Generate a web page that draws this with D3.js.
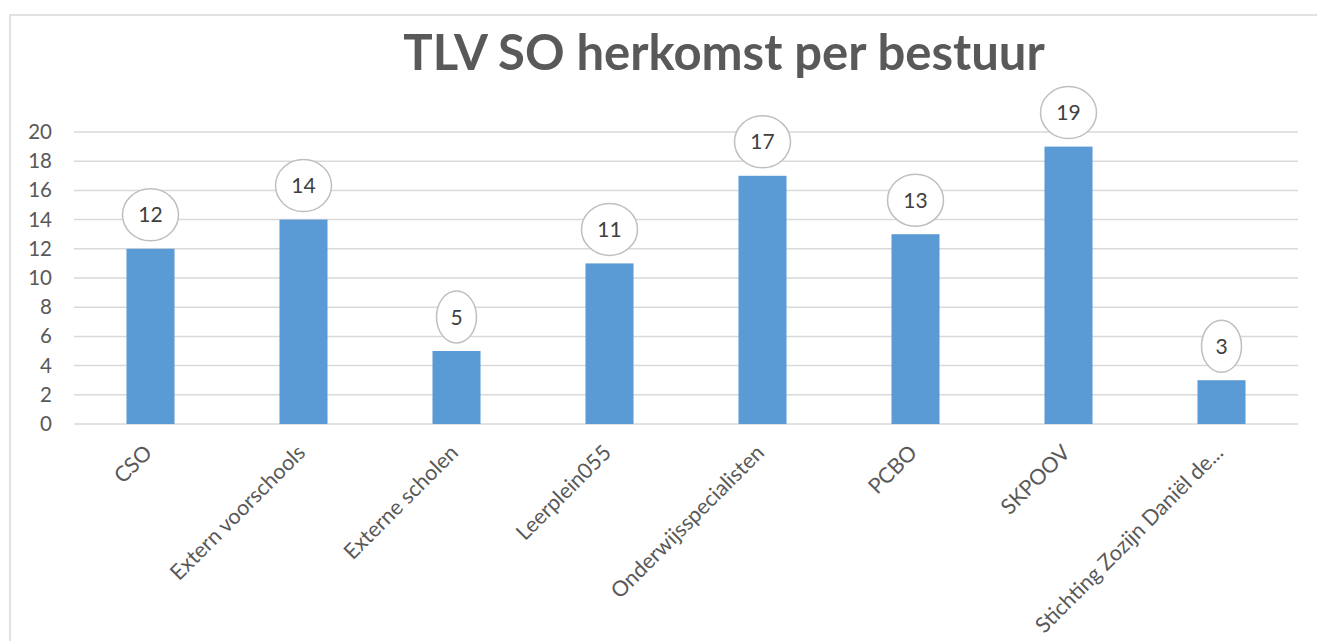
<!DOCTYPE html>
<html>
<head>
<meta charset="utf-8">
<script src="https://cdn.jsdelivr.net/npm/d3@7"></script>
<style>
  body { margin: 0; background: #fff; }
  svg { display: block; font-family: Lato, "Open Sans", sans-serif; }
</style>
</head>
<body>
<script>
const categories = ['CSO', 'Extern voorschools', 'Externe scholen', 'Leerplein055',
                    'Onderwijsspecialisten', 'PCBO', 'SKPOOV', 'Stichting Zozijn Daniël de...'];
const values = [12, 14, 5, 11, 17, 13, 19, 3];
const yTicks = [0, 2, 4, 6, 8, 10, 12, 14, 16, 18, 20];
const title = 'TLV SO herkomst per bestuur';

const W = 1317, H = 641;
const margin = {left: 74, right: 19, top: 132, bottom: 217};

const svg = d3.select('body').append('svg')
              .attr('width', W)
              .attr('height', H);

// chart frame (only top + left edges visible)
svg.append('path')
   .attr('d', `M10,${H} L10,15 L${W},15`)
   .attr('fill', 'none')
   .attr('stroke', '#d9d9d9')
   .attr('stroke-width', 1.5);

svg.append('text')
   .attr('x', 724)
   .attr('y', 70)
   .attr('text-anchor', 'middle')
   .attr('font-size', 49)
   .attr('font-weight', 'bold')
   .attr('fill', '#595959')
   .text(title);

const x = d3.scaleBand()
            .domain(categories)
            .range([margin.left, W - margin.right])
            .paddingInner(0.686)
            .paddingOuter(0.343);

const y = d3.scaleLinear()
            .domain([0, 20])
            .range([H - margin.bottom, margin.top]);

// gridlines
svg.append('g')
   .selectAll('line')
   .data(yTicks)
   .join('line')
   .attr('x1', margin.left)
   .attr('x2', W - margin.right)
   .attr('y1', d => y(d))
   .attr('y2', d => y(d))
   .attr('stroke', '#d9d9d9')
   .attr('stroke-width', 1.5);

// y axis labels
const yAxis = svg.append('g')
                 .attr('transform', `translate(${margin.left},0)`)
                 .call(d3.axisLeft(y).tickValues(yTicks).tickSize(0).tickPadding(22));
yAxis.select('.domain').remove();
yAxis.selectAll('text')
     .attr('font-family', 'Lato, "Open Sans", sans-serif')
     .attr('font-size', 20.5)
     .attr('fill', '#595959');

// bars
svg.append('g')
   .selectAll('rect')
   .data(values)
   .join('rect')
   .attr('x', (d, i) => x(categories[i]))
   .attr('y', d => y(d))
   .attr('width', x.bandwidth())
   .attr('height', d => y(0) - y(d))
   .attr('fill', '#5b9bd5');

// x labels
svg.append('g')
   .selectAll('text')
   .data(categories)
   .join('text')
   .attr('text-anchor', 'end')
   .attr('font-size', 21.5)
   .attr('fill', '#595959')
   .attr('transform', d => `translate(${x(d) + x.bandwidth() / 2 + 3},${y(0) + 30}) rotate(-45)`)
   .text(d => d);

// data labels in ellipses
const lbl = svg.append('g')
               .selectAll('g')
               .data(values)
               .join('g')
               .attr('transform', (d, i) => `translate(${x(categories[i]) + x.bandwidth() / 2},${y(d) - 34})`);

lbl.append('ellipse')
   .attr('rx', d => String(d).length > 1 ? 28 : 20)
   .attr('ry', 26)
   .attr('fill', '#fff')
   .attr('stroke', '#bfbfbf')
   .attr('stroke-width', 1.5);

lbl.append('text')
   .attr('text-anchor', 'middle')
   .attr('dy', '0.36em')
   .attr('font-size', 21)
   .attr('fill', '#404040')
   .text(d => d);
</script>
</body>
</html>
